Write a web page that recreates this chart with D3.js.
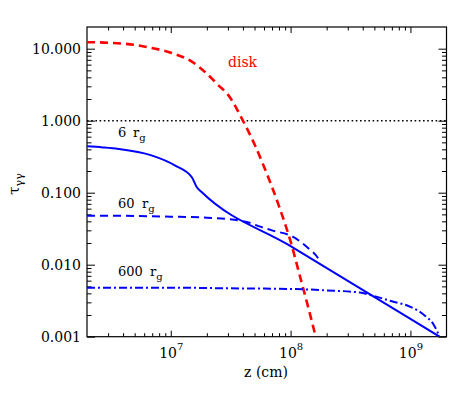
<!DOCTYPE html>
<html>
<head>
<meta charset="utf-8">
<script src="https://cdn.jsdelivr.net/npm/d3@7"></script>
<style>
  body { margin: 0; background: #fff; }
</style>
</head>
<body>
<div id="chart"></div>
<script>
// values (z in cm, tau_gamma-gamma)
const diskZ   = [2e6, 3e6, 5e6, 7e6, 1e7, 1.5e7, 2e7, 2.5e7, 3e7, 4e7, 5e7, 6e7, 7e7, 8e7, 1e8, 1.2e8, 1.4e8, 1.62e8];
const diskTau = [12.3, 12.1, 11.3, 10.2, 8.8, 6.6, 4.5, 3.1, 2.3, 1.0, 0.47, 0.23, 0.12, 0.065, 0.021, 0.0068, 0.0026, 0.001];

const r6Z   = [2e6, 2.7e6, 3.66e6, 6.9e6, 1.09e7, 1.5e7, 1.65e7, 1.81e7, 1e8, 1e9, 1.75e9];
const r6Tau = [0.44, 0.425, 0.405, 0.33, 0.238, 0.164, 0.119, 0.102, 0.0181, 0.00177, 0.001];

const r60Z   = [2e6, 5e6, 1e7, 2e7, 3.4e7, 4.6e7, 5.5e7, 7e7, 1.05e8, 1.4e8, 1.7e8, 1.75e8];
const r60Tau = [0.048, 0.0475, 0.0465, 0.045, 0.042, 0.038, 0.034, 0.03, 0.0243, 0.017, 0.0122, 0.0112];

const r600Z   = [2e6, 1e7, 3e7, 1e8, 2e8, 3.78e8, 4.9e8, 7e8, 1e9, 1.3e9, 1.55e9, 1.73e9];
const r600Tau = [0.0048, 0.0048, 0.0047, 0.0046, 0.0044, 0.0041, 0.0037, 0.0031, 0.0026, 0.002, 0.0015, 0.00105];

const yMajor = [0.001, 0.01, 0.1, 1, 10];
const xMajor = [1e7, 1e8, 1e9];
const xExp = ["7", "8", "9"];

const FONT = "DejaVu Serif";
const width = 472, height = 393;
const pLeft = 87, pRight = 446.5, pTop = 27, pBottom = 336.7;

const svg = d3.select("#chart").append("svg")
    .attr("width", width)
    .attr("height", height)
    .attr("font-family", FONT);

const x = d3.scaleLog().domain([2e6, 2e9]).range([pLeft, pRight]);
const y = d3.scaleLog().domain([0.001, 20]).range([pBottom, pTop]);

// minor ticks: 2..9 of each decade inside the domain
function minors(scale) {
    const [a, b] = scale.domain();
    const out = [];
    for (let e = Math.floor(Math.log10(a)); e <= Math.ceil(Math.log10(b)); e++) {
        for (let m = 2; m <= 9; m++) {
            const v = m * Math.pow(10, e);
            if (v > a && v < b) out.push(v);
        }
    }
    return out;
}

const axisG = svg.append("g").attr("class", "axes");

function addAxis(gen, tx, ty, values, size, fmt) {
    const g = axisG.append("g")
        .attr("transform", `translate(${tx},${ty})`)
        .call(gen.tickValues(values).tickSizeInner(-size).tickSizeOuter(0).tickPadding(6).tickFormat(fmt));
    g.attr("font-family", FONT);
    g.select(".domain").remove();
    g.selectAll("line").attr("stroke", "#000").attr("stroke-width", 1);
    return g;
}
const none = () => "";

// left / right
addAxis(d3.axisLeft(y), pLeft, 0, yMajor, 8, d3.format(".3f"))
    .selectAll("text")
    .attr("font-size", 14)
    .attr("fill", "#000");
addAxis(d3.axisLeft(y), pLeft, 0, minors(y), 4.5, none);
addAxis(d3.axisRight(y), pRight, 0, yMajor, 8, none);
addAxis(d3.axisRight(y), pRight, 0, minors(y), 4.5, none);

// bottom / top
const bx = addAxis(d3.axisBottom(x), 0, pBottom, xMajor, 6, none);
addAxis(d3.axisBottom(x), 0, pBottom, minors(x), 3.5, none);
addAxis(d3.axisTop(x), 0, pTop, xMajor, 6, none);
addAxis(d3.axisTop(x), 0, pTop, minors(x), 3.5, none);

bx.selectAll(".tick").append("text")
    .attr("y", 21.5)
    .attr("fill", "#000")
    .attr("font-size", 14)
    .attr("text-anchor", "middle")
    .each(function(d, i) {
        const t = d3.select(this);
        t.append("tspan").text("10");
        t.append("tspan").attr("dy", -8).attr("font-size", 10).text(xExp[i]);
    });

// frame
svg.append("rect")
    .attr("x", pLeft).attr("y", pTop)
    .attr("width", pRight - pLeft).attr("height", pBottom - pTop)
    .attr("fill", "none")
    .attr("stroke", "#000")
    .attr("stroke-width", 1.2);

// curves
const line = d3.line()
    .x(d => x(d[0]))
    .y(d => y(d[1]))
    .curve(d3.curveMonotoneX);

const plot = svg.append("g");
plot.append("clipPath").attr("id", "clip")
    .append("rect").attr("x", pLeft).attr("y", pTop)
    .attr("width", pRight - pLeft).attr("height", pBottom - pTop);
const lines = plot.append("g").attr("clip-path", "url(#clip)");

// tau = 1 reference
lines.append("line")
    .attr("x1", pLeft).attr("x2", pRight)
    .attr("y1", y(1)).attr("y2", y(1))
    .attr("stroke", "#000")
    .attr("stroke-width", 1.6)
    .attr("stroke-dasharray", "1.6,2.6");

const series = [
    {z: diskZ, t: diskTau, color: "#ff0000", w: 2.6, dash: "8,5"},
    {z: r6Z, t: r6Tau, color: "#0000ff", w: 2, dash: null},
    {z: r60Z, t: r60Tau, color: "#0000ff", w: 2, dash: "8,5"},
    {z: r600Z, t: r600Tau, color: "#0000ff", w: 2, dash: "8,3,2,3"}
];

series.forEach(function(s) {
    lines.append("path")
        .datum(s.z.map((v, i) => [v, s.t[i]]))
        .attr("d", line)
        .attr("fill", "none")
        .attr("stroke", s.color)
        .attr("stroke-width", s.w)
        .attr("stroke-dasharray", s.dash);
});

// annotations
function rgLabel(num, tx, ty, rx) {
    const t = svg.append("text")
        .attr("x", tx).attr("y", ty)
        .attr("font-size", 13)
        .attr("fill", "#000");
    t.append("tspan").text(num);
    t.append("tspan").attr("x", rx).text("r");
    t.append("tspan").attr("dy", 4).attr("font-size", 10).text("g");
}
rgLabel("6", 118, 137, 133);
rgLabel("60", 118, 208, 142);
rgLabel("600", 118, 276, 150);

svg.append("text")
    .attr("x", 228).attr("y", 67)
    .attr("font-size", 14)
    .attr("fill", "#ff0000")
    .text("disk");

svg.append("text")
    .attr("x", 266).attr("y", 377)
    .attr("text-anchor", "middle")
    .attr("font-size", 14)
    .attr("fill", "#000")
    .text("z (cm)");

const yl = svg.append("text")
    .attr("transform", "translate(19,184) rotate(-90)")
    .attr("text-anchor", "middle")
    .attr("font-size", 15)
    .attr("fill", "#000");
yl.append("tspan").text("τ");
yl.append("tspan").attr("dy", 4).attr("font-size", 11).text("γγ");
</script>
</body>
</html>
